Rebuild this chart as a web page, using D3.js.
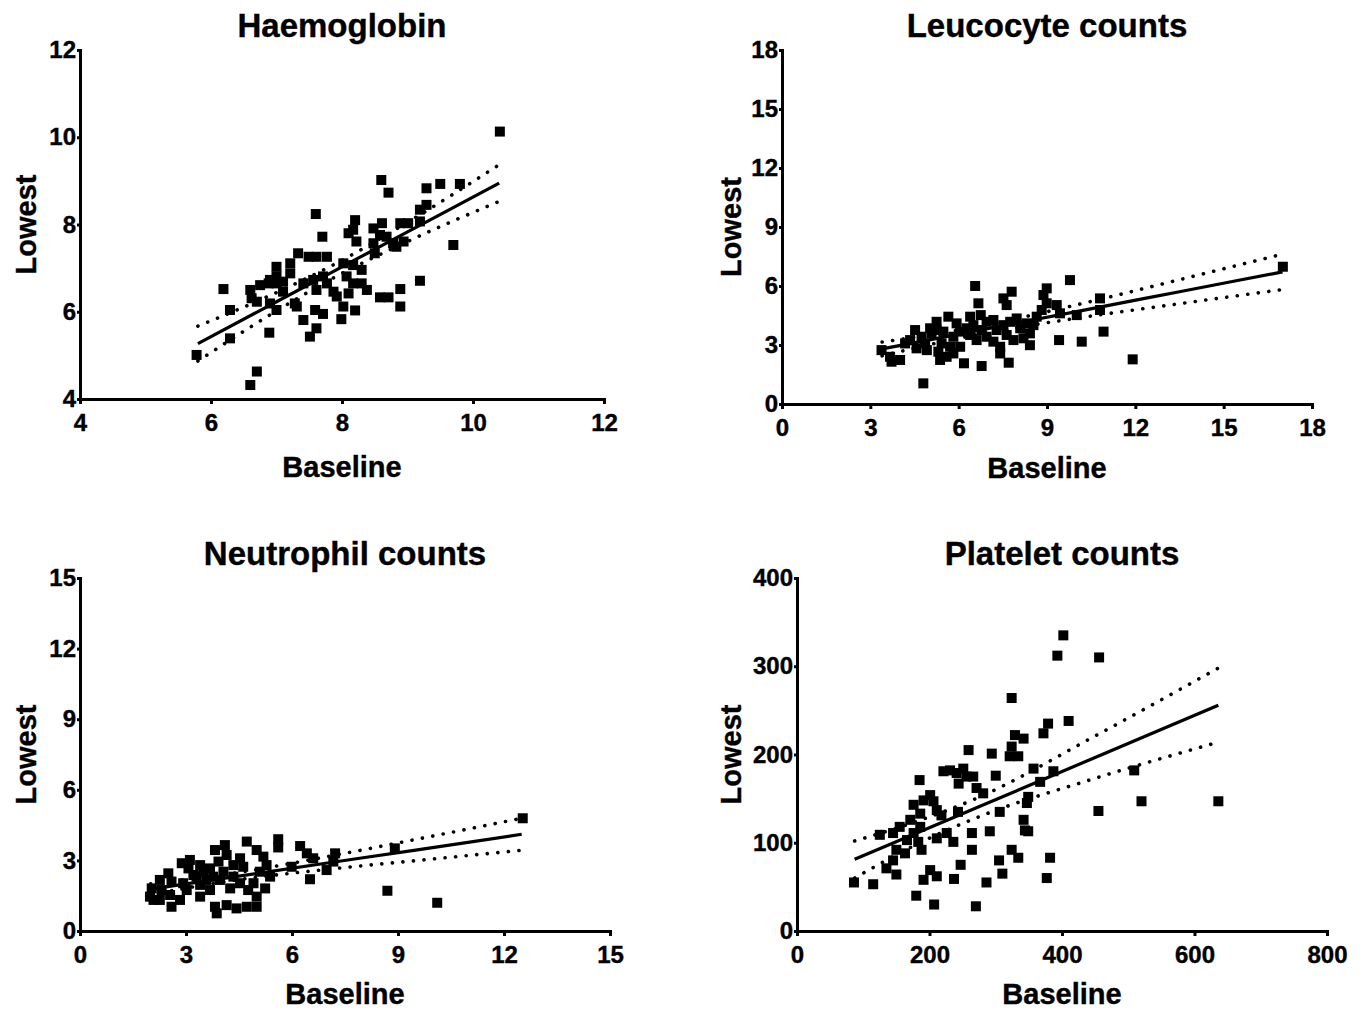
<html>
  <head>
    <style>
      body { margin: 0; background: #fff; }
      text { font-family: "Liberation Sans", Arial, Helvetica, sans-serif; font-weight: bold; fill: #000; stroke: #000; stroke-width: 0.4px; }
    </style>
  </head>
  <body>
    <script src="https://d3js.org/d3.v7.min.js"></script>
    <script>
      // DATA: [baseline, lowest]
      const haemoglobin = [[5.78,5.01],[6.19,6.52],[6.29,6.04],[6.29,5.39],[6.60,6.50],[6.62,6.31],[6.70,6.23],[6.70,4.63],[6.60,4.32],[6.75,6.61],[6.89,5.52],[6.90,6.73],[6.90,6.19],[6.88,6.65],[7.00,7.03],[7.00,6.81],[7.00,6.04],[7.00,6.65],[7.10,6.46],[7.10,6.69],[7.21,7.11],[7.21,6.88],[7.28,6.19],[7.31,6.12],[7.33,7.34],[7.41,6.65],[7.41,5.81],[7.49,7.26],[7.51,5.43],[7.56,6.73],[7.59,6.04],[7.60,8.24],[7.61,7.26],[7.61,6.50],[7.61,5.62],[7.70,7.72],[7.71,6.81],[7.71,5.95],[7.77,7.26],[7.77,6.65],[7.87,6.46],[7.92,6.35],[7.99,5.83],[8.02,7.11],[8.02,6.12],[8.07,6.81],[8.10,7.80],[8.10,6.42],[8.17,7.88],[8.17,7.07],[8.17,6.65],[8.20,8.10],[8.20,6.03],[8.22,7.61],[8.30,6.96],[8.30,6.65],[8.38,6.50],[8.48,7.91],[8.48,7.57],[8.50,7.34],[8.58,7.76],[8.58,6.33],[8.60,9.02],[8.61,8.03],[8.68,7.72],[8.71,8.73],[8.71,6.33],[8.78,7.57],[8.83,7.49],[8.89,8.03],[8.89,6.52],[8.89,6.12],[8.94,7.61],[9.01,8.03],[9.19,8.07],[9.19,8.34],[9.19,6.71],[9.29,8.83],[9.29,8.45],[9.50,8.93],[9.70,7.53],[9.80,8.93],[10.41,10.13]];
      const leucocyte = [[3.38,2.74],[3.67,2.40],[3.72,2.15],[4.01,2.24],[4.18,3.08],[4.35,3.25],[4.52,3.76],[4.57,2.83],[4.74,3.42],[4.80,1.05],[4.86,3.08],[4.92,2.74],[5.03,3.85],[5.08,3.59],[5.25,4.18],[5.25,3.76],[5.31,2.66],[5.37,2.24],[5.42,3.08],[5.48,3.68],[5.59,2.40],[5.65,4.44],[5.71,2.91],[5.82,3.42],[5.82,2.57],[5.93,4.10],[6.05,3.68],[6.05,2.91],[6.18,2.07],[6.27,3.85],[6.39,4.44],[6.39,3.51],[6.50,4.01],[6.56,6.00],[6.61,3.25],[6.67,5.12],[6.75,4.52],[6.78,3.76],[6.78,1.93],[6.95,4.18],[6.95,3.42],[7.18,4.27],[7.18,3.17],[7.29,3.76],[7.41,2.91],[7.41,2.57],[7.52,5.37],[7.52,4.01],[7.63,5.03],[7.63,3.51],[7.70,2.10],[7.75,4.18],[7.80,5.71],[7.86,3.25],[7.97,4.35],[8.09,3.85],[8.20,3.34],[8.31,4.10],[8.42,3.59],[8.42,2.99],[8.54,4.01],[8.65,4.44],[8.82,4.78],[8.88,5.54],[8.99,5.88],[8.99,5.12],[9.33,5.03],[9.41,3.25],[9.44,4.61],[9.78,6.30],[10.01,4.52],[10.18,3.17],[10.80,5.37],[10.80,4.78],[10.92,3.68],[11.91,2.27],[17.01,6.98]];
      const neutrophil = [[1.98,1.46],[2.03,1.81],[2.08,1.32],[2.26,2.17],[2.26,1.32],[2.31,1.74],[2.50,2.45],[2.55,1.53],[2.59,2.10],[2.59,1.03],[2.83,1.32],[2.88,2.88],[2.92,2.03],[3.02,1.74],[3.07,2.66],[3.11,3.02],[3.21,2.38],[3.30,2.31],[3.40,2.80],[3.40,1.96],[3.40,1.46],[3.49,2.52],[3.58,2.17],[3.68,2.66],[3.68,1.74],[3.77,2.31],[3.82,3.44],[3.82,1.03],[3.87,0.75],[3.92,2.95],[3.96,2.17],[4.06,2.52],[4.10,3.65],[4.15,3.23],[4.15,1.10],[4.25,1.81],[4.34,2.80],[4.34,2.31],[4.43,0.96],[4.53,3.09],[4.53,2.03],[4.62,2.73],[4.72,3.80],[4.72,1.03],[4.76,1.74],[4.91,2.03],[5.00,3.44],[5.00,1.46],[5.00,1.03],[5.09,2.52],[5.19,3.16],[5.24,1.81],[5.28,2.80],[5.38,2.31],[5.61,3.90],[5.61,3.55],[5.99,2.73],[6.23,3.61],[6.42,3.30],[6.51,2.20],[6.60,3.09],[6.98,2.59],[7.17,2.95],[7.22,3.30],[8.70,1.71],[8.91,3.51],[10.11,1.20],[12.53,4.79]];
      const platelet = [[86,55],[115,53],[125,109],[135,71],[145,111],[145,80],[150,92],[150,64],[155,118],[163,88],[166,103],[171,126],[176,143],[176,111],[180,40],[183,101],[185,171],[186,133],[186,118],[188,92],[191,148],[191,58],[201,154],[201,69],[206,147],[207,30],[211,137],[211,105],[211,62],[218,131],[221,181],[226,111],[231,182],[236,101],[237,59],[241,179],[243,135],[244,167],[247,75],[251,184],[256,175],[259,205],[264,111],[264,92],[266,175],[270,28],[271,162],[281,156],[286,55],[291,113],[294,201],[300,176],[305,80],[306,135],[310,65],[321,198],[324,264],[324,209],[324,92],[329,222],[334,198],[334,83],[342,218],[342,126],[344,114],[347,145],[349,152],[349,113],[357,184],[367,169],[372,224],[377,60],[379,235],[382,83],[387,181],[393,312],[402,335],[410,238],[455,136],[456,310],[509,182],[520,147],[636,147]];

      // regression line and 95% band
      const hbFitX = [5.8, 7.0, 7.9, 9.0, 10.4];
      const hbFit = [5.27, 6.23, 6.95, 7.83, 8.95];
      const hbUpper = [5.67, 6.44, 7.10, 8.05, 9.37];
      const hbLower = [4.87, 6.02, 6.80, 7.61, 8.53];

      const wbcFitX = [3.4, 6.8, 10, 13.5, 17];
      const wbcFit = [2.80, 3.78, 4.70, 5.71, 6.72];
      const wbcUpper = [3.15, 3.98, 5.04, 6.32, 7.62];
      const wbcLower = [2.45, 3.58, 4.36, 5.10, 5.82];

      const neuFitX = [2, 4.2, 7, 9.5, 12.5];
      const neuFit = [1.78, 2.27, 2.89, 3.44, 4.11];
      const neuUpper = [2.01, 2.42, 3.16, 3.89, 4.79];
      const neuLower = [1.55, 2.12, 2.62, 2.99, 3.43];

      const pltFitX = [87, 180, 270, 450, 636];
      const pltFit = [81.2, 110.8, 139.4, 196.6, 255.7];
      const pltUpper = [102, 124, 150, 221, 298];
      const pltLower = [60, 98, 128, 173, 214];

      const hbTicksX = [4, 6, 8, 10, 12];
      const hbTicksY = [4, 6, 8, 10, 12];
      const wbcTicks = [0, 3, 6, 9, 12, 15, 18];
      const neuTicks = [0, 3, 6, 9, 12, 15];
      const pltTicksX = [0, 200, 400, 600, 800];
      const pltTicksY = [0, 100, 200, 300, 400];

      const svg = d3.select("body").append("svg")
        .attr("width", 1366)
        .attr("height", 1010);

      const panels = [
        { title: "Haemoglobin", pts: haemoglobin, fx: hbFitX, fit: hbFit, up: hbUpper, lo: hbLower,
          xDom: [4, 12], yDom: [4, 12], xTicks: hbTicksX, yTicks: hbTicksY,
          left: 80, right: 604, top: 50, bottom: 399, titleY: 37, labelY: 477, yLabX: 36 },
        { title: "Leucocyte counts", pts: leucocyte, fx: wbcFitX, fit: wbcFit, up: wbcUpper, lo: wbcLower,
          xDom: [0, 18], yDom: [0, 18], xTicks: wbcTicks, yTicks: wbcTicks,
          left: 782, right: 1312, top: 50, bottom: 404, titleY: 37, labelY: 478, yLabX: 741 },
        { title: "Neutrophil counts", pts: neutrophil, fx: neuFitX, fit: neuFit, up: neuUpper, lo: neuLower,
          xDom: [0, 15], yDom: [0, 15], xTicks: neuTicks, yTicks: neuTicks,
          left: 80, right: 610, top: 578, bottom: 931, titleY: 565, labelY: 1004, yLabX: 36 },
        { title: "Platelet counts", pts: platelet, fx: pltFitX, fit: pltFit, up: pltUpper, lo: pltLower,
          xDom: [0, 800], yDom: [0, 400], xTicks: pltTicksX, yTicks: pltTicksY,
          left: 797, right: 1327, top: 578, bottom: 931, titleY: 565, labelY: 1004, yLabX: 741 }
      ];

      panels.forEach(drawPanel);

      function drawPanel(p) {
        const x = d3.scaleLinear().domain(p.xDom).range([p.left, p.right]);
        const y = d3.scaleLinear().domain(p.yDom).range([p.bottom, p.top]);
        const g = svg.append("g");

        // points
        const s = 10;
        g.append("g")
          .selectAll("rect")
          .data(p.pts)
          .enter()
          .append("rect")
          .attr("x", (d) => x(d[0]) - s / 2)
          .attr("y", (d) => y(d[1]) - s / 2)
          .attr("width", s)
          .attr("height", s)
          .attr("fill", "#000");

        // fit + confidence bands
        const idx = d3.range(p.fx.length);
        const line = (arr) => d3.line()
          .x((i) => x(p.fx[i]))
          .y((i) => y(arr[i]))
          .curve(d3.curveMonotoneX)(idx);

        [p.up, p.lo].forEach((arr) => {
          g.append("path")
            .attr("d", line(arr))
            .attr("fill", "none")
            .attr("stroke", "#000")
            .attr("stroke-width", 3.6)
            .attr("stroke-linecap", "round")
            .attr("stroke-dasharray", "0.1 10.5");
        });

        g.append("path")
          .attr("d", line(p.fit))
          .attr("fill", "none")
          .attr("stroke", "#000")
          .attr("stroke-width", 3.2);

        // axes
        const xAxis = d3.axisBottom(x).tickValues(p.xTicks).tickSize(5).tickSizeOuter(0).tickPadding(10);
        const yAxis = d3.axisLeft(y).tickValues(p.yTicks).tickSize(3).tickSizeOuter(0).tickPadding(1);

        const gx = g.append("g").attr("transform", `translate(0,${p.bottom})`).call(xAxis);
        const gy = g.append("g").attr("transform", `translate(${p.left},0)`).call(yAxis);

        [gx, gy].forEach((a) => {
          a.attr("font-family", null).attr("font-size", null);
          a.select(".domain").attr("stroke", "#000").attr("stroke-width", 3).attr("stroke-linecap", "square");
          a.selectAll(".tick line").attr("stroke", "#000").attr("stroke-width", 3);
          a.selectAll(".tick text").style("font-size", "24px");
        });

        // titles
        const cx = (p.left + p.right) / 2;
        g.append("text")
          .attr("x", cx)
          .attr("y", p.titleY)
          .attr("text-anchor", "middle")
          .style("font-size", "33px")
          .text(p.title);

        g.append("text")
          .attr("x", cx)
          .attr("y", p.labelY)
          .attr("text-anchor", "middle")
          .style("font-size", "29px")
          .text("Baseline");

        g.append("text")
          .attr("transform", `translate(${p.yLabX},${(p.top + p.bottom) / 2}) rotate(-90)`)
          .attr("text-anchor", "middle")
          .style("font-size", "29px")
          .text("Lowest");
      }
    </script>
  </body>
</html>
